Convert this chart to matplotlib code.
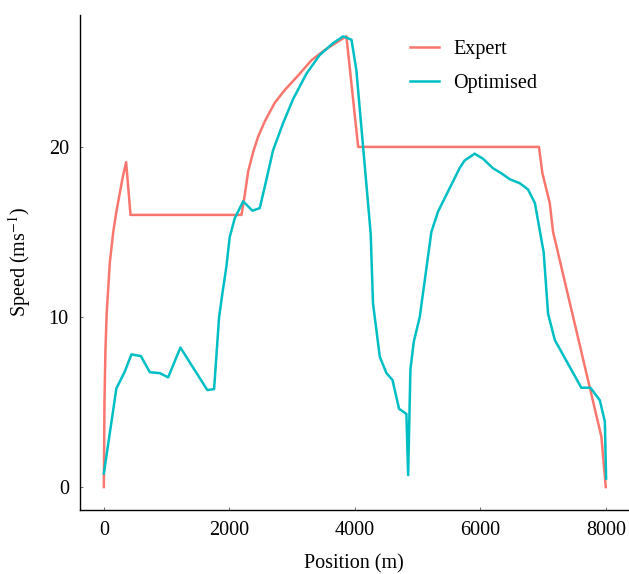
import matplotlib
matplotlib.use("Agg")
import matplotlib.pyplot as plt

# speed profiles
expert_x = [0, 10, 25, 45, 95, 150, 200, 260, 300, 355, 425, 2194, 2247, 2300, 2380, 2459, 2565,
            2725, 2885, 3097, 3310, 3522, 3734, 3866, 4053, 6935, 6990, 7107, 7160, 7930, 8000]
expert_v = [0, 5, 8, 10.2, 13.2, 15.0, 16.2, 17.4, 18.2, 19.1, 16.0, 16.0, 17.2, 18.55, 19.7, 20.6, 21.5,
            22.6, 23.35, 24.2, 25.1, 25.7, 26.2, 26.5, 20.0, 20.0, 18.45, 16.7, 15.0, 2.96, 0]

opt_x = [0, 200, 335, 440, 590, 733, 890, 1025, 1220, 1650, 1757, 1837, 1890, 1953, 2006, 2086,
         2220, 2368, 2485, 2590, 2697, 2857, 3015, 3228, 3440, 3654, 3814, 3947, 4025, 4132,
         4253, 4290, 4398, 4504, 4600, 4705, 4822, 4850, 4886, 4940, 5035, 5220, 5327, 5670,
         5750, 5910, 6045, 6200, 6335, 6470, 6630, 6760, 6870, 7010, 7080, 7187, 7610, 7755,
         7905, 7985, 8005]
opt_v = [0.8, 5.8, 6.8, 7.8, 7.7, 6.75, 6.7, 6.45, 8.2, 5.7, 5.76, 10.0, 11.4, 12.96, 14.7, 15.8,
         16.8, 16.25, 16.4, 18.06, 19.8, 21.4, 22.8, 24.3, 25.4, 26.1, 26.5, 26.3, 24.5, 20.0,
         14.9, 10.8, 7.66, 6.7, 6.3, 4.6, 4.3, 0.7, 6.9, 8.55, 10.0, 15.0, 16.2, 18.75,
         19.2, 19.6, 19.3, 18.75, 18.45, 18.1, 17.86, 17.5, 16.7, 13.8, 10.2, 8.65, 5.84, 5.84,
         5.1, 3.85, 0.5]

plt.rcParams['font.family'] = ['Liberation Serif', 'DejaVu Serif']
plt.rcParams['mathtext.fontset'] = 'stix'

fig = plt.figure(figsize=(6.29, 5.74), dpi=100)
ax = fig.add_axes([0.127, 0.1115, 0.871, 0.8625])

ax.plot(expert_x, expert_v, color='#F8766D', linewidth=1.8, label='Expert')
ax.plot(opt_x, opt_v, color='#00BFC4', linewidth=1.8, label='Optimised')

ax.set_xlim(-382, 8350)
ax.set_ylim(-1.35, 27.76)
ax.set_xticks([0, 2000, 4000, 6000, 8000])
ax.set_yticks([0, 10, 20])

for s in ['top', 'right']:
    ax.spines[s].set_visible(False)
for s in ['left', 'bottom']:
    ax.spines[s].set_linewidth(1.0)

ax.tick_params(direction='in', length=2.5, width=0.6, color='#555555', labelsize=14.5, pad=8)

ax.set_xlabel('Position (m)', fontsize=14.5, labelpad=10.5)
ax.set_ylabel('Speed (ms$^{-1}$)', fontsize=14.5, labelpad=11)

ax.legend(loc='upper left', bbox_to_anchor=(0.570, 0.987), frameon=False, fontsize=14.5,
          handlelength=1.45, labelspacing=0.75, handletextpad=0.7)

fig.savefig('out.png', dpi=100)
